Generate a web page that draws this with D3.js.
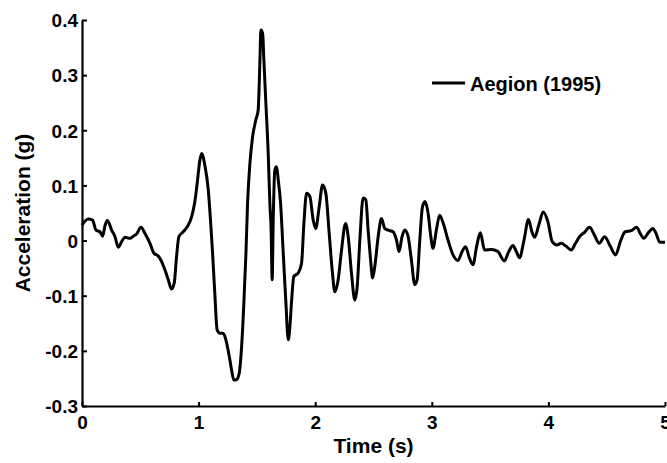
<!DOCTYPE html>
<html>
<head>
<meta charset="utf-8">
<script src="https://cdn.jsdelivr.net/npm/d3@7/dist/d3.min.js"></script>
<style>
  body { margin: 0; background: #fff; }
  text { font-family: "Liberation Sans", Arial, sans-serif; font-weight: bold; fill: #000; }
</style>
</head>
<body>
<div id="graph"></div>
<script>
const time = [0.0, 0.054, 0.09, 0.12, 0.154, 0.177, 0.195, 0.217, 0.254, 0.283, 0.311, 0.34, 0.368, 0.411, 0.44, 0.468, 0.506, 0.54, 0.583, 0.617, 0.654, 0.683, 0.711, 0.74, 0.768, 0.791, 0.811, 0.831, 0.868, 0.903, 0.94, 0.968, 0.988, 1.011, 1.026, 1.054, 1.083, 1.102, 1.12, 1.139, 1.159, 1.183, 1.211, 1.234, 1.263, 1.283, 1.303, 1.326, 1.348, 1.369, 1.388, 1.406, 1.42, 1.44, 1.463, 1.491, 1.511, 1.526, 1.534, 1.549, 1.56, 1.577, 1.597, 1.611, 1.622, 1.631, 1.64, 1.654, 1.669, 1.683, 1.703, 1.726, 1.749, 1.769, 1.783, 1.798, 1.817, 1.854, 1.883, 1.903, 1.926, 1.954, 1.983, 2.005, 2.034, 2.063, 2.091, 2.12, 2.148, 2.168, 2.197, 2.226, 2.26, 2.283, 2.311, 2.34, 2.36, 2.383, 2.411, 2.434, 2.454, 2.475, 2.492, 2.511, 2.54, 2.568, 2.597, 2.625, 2.668, 2.697, 2.719, 2.745, 2.768, 2.797, 2.825, 2.854, 2.874, 2.897, 2.92, 2.942, 2.968, 2.99, 3.01, 3.04, 3.067, 3.1, 3.139, 3.182, 3.224, 3.26, 3.29, 3.32, 3.353, 3.385, 3.416, 3.453, 3.51, 3.567, 3.622, 3.66, 3.696, 3.725, 3.753, 3.79, 3.829, 3.86, 3.882, 3.92, 3.955, 3.996, 4.033, 4.073, 4.11, 4.15, 4.196, 4.232, 4.267, 4.31, 4.353, 4.39, 4.436, 4.482, 4.53, 4.576, 4.62, 4.658, 4.71, 4.756, 4.79, 4.817, 4.86, 4.896, 4.925, 4.955, 5.0];
const accel = [0.028, 0.039, 0.037, 0.019, 0.016, 0.008, 0.025, 0.037, 0.019, 0.007, -0.012, -0.002, 0.006, 0.004, 0.008, 0.012, 0.024, 0.013, -0.005, -0.023, -0.028, -0.038, -0.053, -0.071, -0.088, -0.077, -0.029, 0.007, 0.016, 0.025, 0.043, 0.071, 0.104, 0.146, 0.158, 0.136, 0.092, 0.037, -0.023, -0.096, -0.162, -0.168, -0.168, -0.18, -0.21, -0.235, -0.253, -0.252, -0.241, -0.192, -0.114, -0.023, 0.068, 0.14, 0.188, 0.219, 0.237, 0.327, 0.382, 0.376, 0.327, 0.249, 0.158, 0.068, 0.019, -0.071, 0.037, 0.128, 0.134, 0.11, 0.068, -0.023, -0.114, -0.18, -0.156, -0.108, -0.065, -0.059, -0.041, 0.031, 0.086, 0.08, 0.037, 0.022, 0.061, 0.101, 0.086, 0.013, -0.059, -0.093, -0.071, -0.017, 0.031, 0.007, -0.059, -0.108, -0.084, 0.001, 0.077, 0.074, 0.019, -0.035, -0.068, -0.047, 0.007, 0.04, 0.022, 0.019, 0.016, 0.001, -0.02, 0.007, 0.019, 0.007, -0.035, -0.08, -0.071, 0.001, 0.061, 0.071, 0.05, 0.01, -0.014, 0.02, 0.046, 0.03, 0.001, -0.026, -0.036, -0.02, -0.011, -0.03, -0.044, -0.01, 0.014, -0.017, -0.016, -0.02, -0.037, -0.02, -0.009, -0.02, -0.031, 0.0, 0.038, 0.015, 0.006, 0.03, 0.052, 0.034, -0.002, -0.008, -0.005, -0.01, -0.017, -0.005, 0.007, 0.015, 0.024, 0.012, -0.005, 0.007, -0.01, -0.026, 0.0, 0.016, 0.018, 0.024, 0.012, 0.004, 0.015, 0.022, 0.012, -0.003, -0.003];
const xTicks = [0, 1, 2, 3, 4, 5];
const yTicks = [-0.3, -0.2, -0.1, 0, 0.1, 0.2, 0.3, 0.4];
const seriesName = 'Aegion (1995)';

const w = 667;
const h = 463;
const pad_left = 82, pad_right = 665, pad_top = 20, pad_bottom = 406;

const svg = d3.select('#graph').append('svg')
  .attr('width', w)
  .attr('height', h);

const xScale = d3.scaleLinear().domain([0, 5]).range([pad_left, pad_right]);
const yScale = d3.scaleLinear().domain([-0.3, 0.4]).range([pad_bottom, pad_top]);

const fmt = (d) => d === 0 ? '0' : d3.format('.1f')(d).replace('−', '-');

// x axis, ticks pointing in
const xAxis = svg.append('g')
  .attr('transform', 'translate(0,' + pad_bottom + ')')
  .call(d3.axisBottom(xScale).tickValues(xTicks).tickSizeInner(-4).tickSizeOuter(0).tickPadding(7).tickFormat(d3.format('d')));

// y axis, ticks pointing in
const yAxis = svg.append('g')
  .attr('transform', 'translate(' + pad_left + ',0)')
  .call(d3.axisLeft(yScale).tickValues(yTicks).tickSizeInner(-5).tickSizeOuter(0).tickPadding(4).tickFormat(fmt));

svg.selectAll('.domain').attr('stroke', '#000').attr('stroke-width', 2.2);
svg.selectAll('.tick line').attr('stroke', '#000').attr('stroke-width', 2);
xAxis.selectAll('text').style('font-size', '19px').attr('dy', '0.85em');
yAxis.selectAll('text').style('font-size', '19px').attr('dy', '0.36em');

// the record itself
const pts = time.map((t, i) => [t, accel[i]]);
const line = d3.line()
  .curve(d3.curveMonotoneX)
  .x((d) => xScale(d[0]))
  .y((d) => yScale(d[1]));

svg.append('path')
  .datum(pts)
  .attr('d', line)
  .attr('fill', 'none')
  .attr('stroke', '#000')
  .attr('stroke-width', 3)
  .attr('stroke-linejoin', 'round');

// axis titles
svg.append('text')
  .attr('x', (pad_left + pad_right) / 2)
  .attr('y', 453)
  .attr('text-anchor', 'middle')
  .style('font-size', '21px')
  .text('Time (s)');

svg.append('text')
  .attr('transform', 'translate(30,' + (pad_top + pad_bottom) / 2 + ') rotate(-90)')
  .attr('text-anchor', 'middle')
  .style('font-size', '21px')
  .text('Acceleration (g)');

// legend
const legend = svg.append('g');
legend.append('line')
  .attr('x1', 432).attr('x2', 465)
  .attr('y1', 83).attr('y2', 83)
  .attr('stroke', '#000')
  .attr('stroke-width', 3);
legend.append('text')
  .attr('x', 470)
  .attr('y', 91)
  .style('font-size', '20px')
  .text(seriesName);
</script>
</body>
</html>
